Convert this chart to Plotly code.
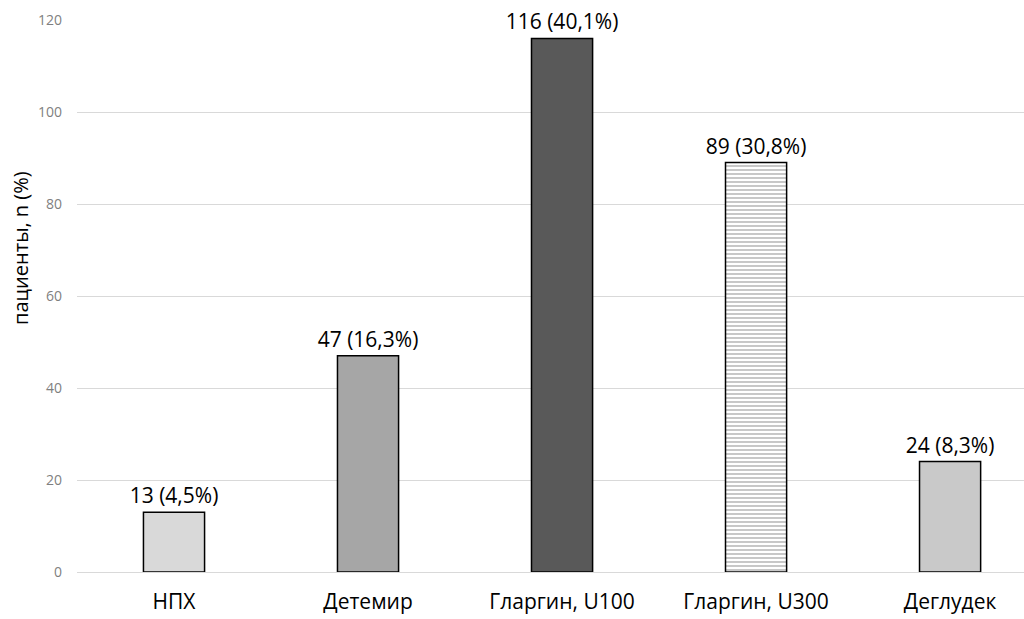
import plotly.graph_objects as go

categories = ["НПХ", "Детемир", "Гларгин, U100", "Гларгин, U300", "Деглудек"]
values = [13, 47, 116, 89, 24]
labels = ["13 (4,5%)", "47 (16,3%)", "116 (40,1%)", "89 (30,8%)", "24 (8,3%)"]
colors = ["#d9d9d9", "#a6a6a6", "#595959", "#ffffff", "#c9c9c9"]
patterns = ["", "", "", "-", ""]
y_ticks = [0, 20, 40, 60, 80, 100, 120]
y_title = "пациенты, n (%)"

fig = go.Figure(go.Bar(
    x=list(range(len(categories))),
    y=values,
    text=labels,
    textposition="outside",
    constraintext="none",
    cliponaxis=False,
    textfont=dict(size=21, color="#000000"),
    marker=dict(
        color=colors,
        line=dict(color="#000000", width=1.5),
        pattern=dict(shape=patterns, fgcolor="#8c8c8c", size=4, solidity=0.3),
    ),
    width=0.315,
))

fig.update_layout(
    width=1024, height=619,
    margin=dict(l=77, r=0, t=20, b=47),
    paper_bgcolor="white", plot_bgcolor="white",
    font=dict(family="Open Sans, Liberation Sans, sans-serif", color="#000000"),
    showlegend=False,
)
fig.add_annotation(
    text=y_title, textangle=-90, showarrow=False,
    xref="paper", yref="paper", x=-0.0592, y=0.587,
    xanchor="center", yanchor="middle",
    font=dict(size=20, color="#000000"),
)
fig.update_xaxes(
    tickmode="array", tickvals=list(range(len(categories))), ticktext=categories,
    range=[-0.5, 4.381], showgrid=False, zeroline=False, showline=False,
    tickfont=dict(size=21, color="#000000"), ticks="", ticklabelstandoff=15,
)
fig.update_yaxes(
    range=[0, 120], tickvals=y_ticks, showgrid=True, gridcolor="#d9d9d9", gridwidth=1,
    zeroline=True, zerolinecolor="#d9d9d9", zerolinewidth=1,
    tickfont=dict(size=14, color="#7f7f7f"), ticks="", ticklabelstandoff=14,
)

fig.write_html("out.html")
